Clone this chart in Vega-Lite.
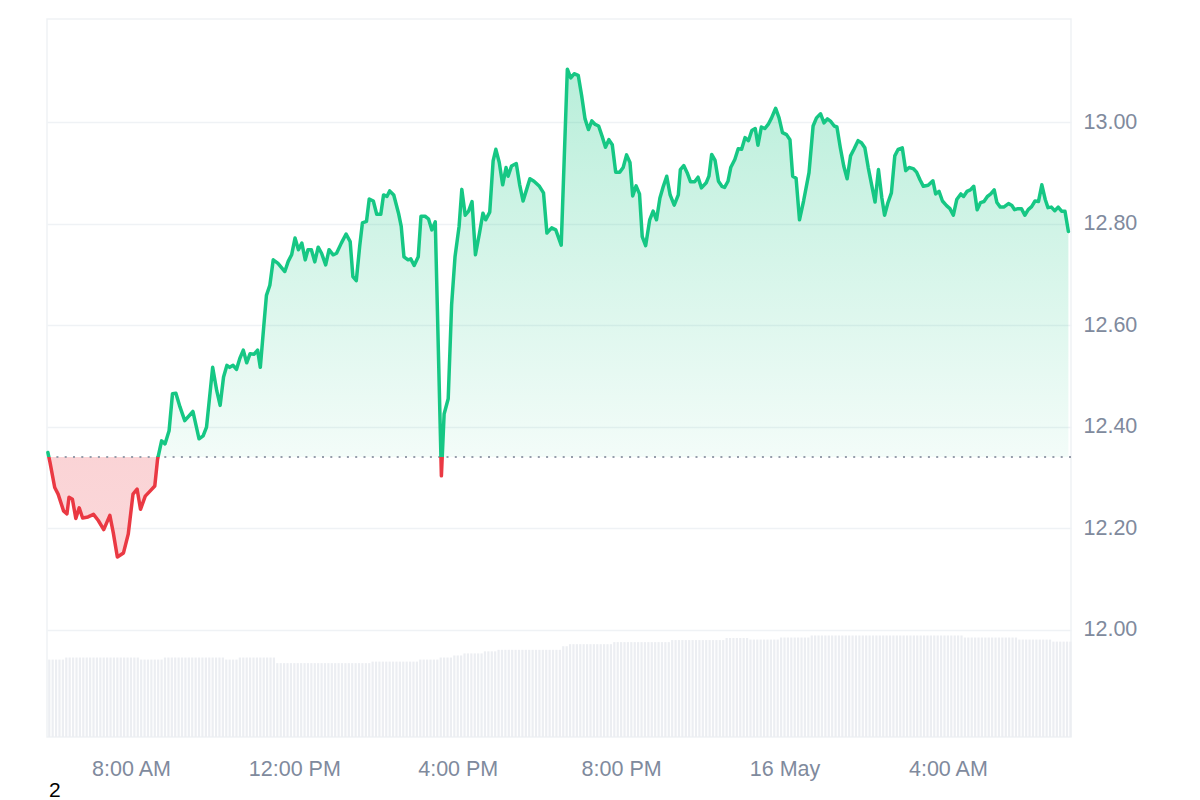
{
"$schema": "https://vega.github.io/schema/vega-lite/v6.json",
"width": 1024,
"height": 718,
"autosize": {"type": "none"},
"padding": {"left": 47, "top": 19, "right": 129, "bottom": 63},
"background": "white",
"config": {"view": {"stroke": "#eff2f5", "strokeWidth": 1.5}, "font": "Liberation Sans"},
"title": {"text": "2", "orient": "bottom", "anchor": "start", "fontSize": 21, "fontWeight": "normal", "color": "#000000", "font": "Liberation Sans", "baseline": "alphabetic", "offset": 17, "dx": 3},
"datasets": {
"price": [
{"t":"2024-05-15T05:58","p":12.349},{"t":"2024-05-15T06:01","p":12.330},{"t":"2024-05-15T06:08","p":12.280},{"t":"2024-05-15T06:13","p":12.267},{"t":"2024-05-15T06:21","p":12.234},{"t":"2024-05-15T06:26","p":12.228},{"t":"2024-05-15T06:29","p":12.261},{"t":"2024-05-15T06:34","p":12.257},{"t":"2024-05-15T06:39","p":12.219},{"t":"2024-05-15T06:44","p":12.240},{"t":"2024-05-15T06:49","p":12.220},{"t":"2024-05-15T06:57","p":12.222},{"t":"2024-05-15T07:05","p":12.227},{"t":"2024-05-15T07:12","p":12.215},{"t":"2024-05-15T07:20","p":12.197},{"t":"2024-05-15T07:29","p":12.225},{"t":"2024-05-15T07:34","p":12.191},{"t":"2024-05-15T07:40","p":12.143},{"t":"2024-05-15T07:49","p":12.151},{"t":"2024-05-15T07:56","p":12.188},
{"t":"2024-05-15T08:03","p":12.267},{"t":"2024-05-15T08:09","p":12.277},{"t":"2024-05-15T08:14","p":12.237},{"t":"2024-05-15T08:21","p":12.263},{"t":"2024-05-15T08:28","p":12.273},{"t":"2024-05-15T08:35","p":12.283},{"t":"2024-05-15T08:39","p":12.335},{"t":"2024-05-15T08:45","p":12.372},{"t":"2024-05-15T08:50","p":12.366},{"t":"2024-05-15T08:56","p":12.392},{"t":"2024-05-15T09:01","p":12.465},{"t":"2024-05-15T09:06","p":12.466},{"t":"2024-05-15T09:12","p":12.439},{"t":"2024-05-15T09:19","p":12.412},{"t":"2024-05-15T09:31","p":12.430},{"t":"2024-05-15T09:40","p":12.376},{"t":"2024-05-15T09:46","p":12.382},{"t":"2024-05-15T09:51","p":12.399},
{"t":"2024-05-15T10:00","p":12.517},{"t":"2024-05-15T10:06","p":12.471},{"t":"2024-05-15T10:11","p":12.442},{"t":"2024-05-15T10:16","p":12.498},{"t":"2024-05-15T10:21","p":12.521},{"t":"2024-05-15T10:25","p":12.517},{"t":"2024-05-15T10:30","p":12.521},{"t":"2024-05-15T10:35","p":12.513},{"t":"2024-05-15T10:40","p":12.535},{"t":"2024-05-15T10:45","p":12.551},{"t":"2024-05-15T10:50","p":12.526},{"t":"2024-05-15T10:55","p":12.544},{"t":"2024-05-15T11:01","p":12.543},{"t":"2024-05-15T11:06","p":12.551},{"t":"2024-05-15T11:10","p":12.517},{"t":"2024-05-15T11:15","p":12.597},{"t":"2024-05-15T11:19","p":12.659},{"t":"2024-05-15T11:24","p":12.679},{"t":"2024-05-15T11:29","p":12.729},{"t":"2024-05-15T11:36","p":12.722},{"t":"2024-05-15T11:46","p":12.706},{"t":"2024-05-15T11:51","p":12.726},{"t":"2024-05-15T11:56","p":12.739},
{"t":"2024-05-15T12:01","p":12.772},{"t":"2024-05-15T12:06","p":12.749},{"t":"2024-05-15T12:11","p":12.762},{"t":"2024-05-15T12:16","p":12.729},{"t":"2024-05-15T12:20","p":12.749},{"t":"2024-05-15T12:25","p":12.749},{"t":"2024-05-15T12:30","p":12.725},{"t":"2024-05-15T12:35","p":12.754},{"t":"2024-05-15T12:40","p":12.742},{"t":"2024-05-15T12:46","p":12.719},{"t":"2024-05-15T12:51","p":12.749},{"t":"2024-05-15T12:57","p":12.739},{"t":"2024-05-15T13:02","p":12.742},{"t":"2024-05-15T13:09","p":12.762},{"t":"2024-05-15T13:16","p":12.780},{"t":"2024-05-15T13:22","p":12.765},{"t":"2024-05-15T13:26","p":12.696},{"t":"2024-05-15T13:31","p":12.688},{"t":"2024-05-15T13:36","p":12.756},{"t":"2024-05-15T13:40","p":12.802},{"t":"2024-05-15T13:46","p":12.805},{"t":"2024-05-15T13:50","p":12.849},{"t":"2024-05-15T13:56","p":12.845},
{"t":"2024-05-15T14:01","p":12.819},{"t":"2024-05-15T14:07","p":12.819},{"t":"2024-05-15T14:11","p":12.857},{"t":"2024-05-15T14:16","p":12.854},{"t":"2024-05-15T14:20","p":12.865},{"t":"2024-05-15T14:26","p":12.857},{"t":"2024-05-15T14:33","p":12.821},{"t":"2024-05-15T14:37","p":12.795},{"t":"2024-05-15T14:41","p":12.735},{"t":"2024-05-15T14:47","p":12.729},{"t":"2024-05-15T14:51","p":12.731},{"t":"2024-05-15T14:56","p":12.718},{"t":"2024-05-15T15:02","p":12.735},{"t":"2024-05-15T15:06","p":12.815},{"t":"2024-05-15T15:12","p":12.815},{"t":"2024-05-15T15:17","p":12.810},{"t":"2024-05-15T15:22","p":12.788},{"t":"2024-05-15T15:27","p":12.804},{"t":"2024-05-15T15:36","p":12.303},{"t":"2024-05-15T15:40","p":12.425},{"t":"2024-05-15T15:46","p":12.455},{"t":"2024-05-15T15:51","p":12.640},{"t":"2024-05-15T15:56","p":12.735},
{"t":"2024-05-15T16:02","p":12.795},{"t":"2024-05-15T16:06","p":12.868},{"t":"2024-05-15T16:11","p":12.817},{"t":"2024-05-15T16:16","p":12.825},{"t":"2024-05-15T16:21","p":12.844},{"t":"2024-05-15T16:26","p":12.739},{"t":"2024-05-15T16:32","p":12.782},{"t":"2024-05-15T16:37","p":12.821},{"t":"2024-05-15T16:41","p":12.808},{"t":"2024-05-15T16:47","p":12.823},{"t":"2024-05-15T16:52","p":12.924},{"t":"2024-05-15T16:56","p":12.947},{"t":"2024-05-15T17:01","p":12.921},{"t":"2024-05-15T17:06","p":12.877},{"t":"2024-05-15T17:11","p":12.911},{"t":"2024-05-15T17:14","p":12.894},{"t":"2024-05-15T17:19","p":12.914},{"t":"2024-05-15T17:26","p":12.919},{"t":"2024-05-15T17:31","p":12.877},{"t":"2024-05-15T17:36","p":12.845},{"t":"2024-05-15T17:41","p":12.867},{"t":"2024-05-15T17:46","p":12.889},{"t":"2024-05-15T17:52","p":12.884},
{"t":"2024-05-15T18:00","p":12.874},{"t":"2024-05-15T18:06","p":12.861},{"t":"2024-05-15T18:11","p":12.782},{"t":"2024-05-15T18:18","p":12.792},{"t":"2024-05-15T18:24","p":12.788},{"t":"2024-05-15T18:32","p":12.758},{"t":"2024-05-15T18:41","p":13.105},{"t":"2024-05-15T18:46","p":13.088},{"t":"2024-05-15T18:51","p":13.096},{"t":"2024-05-15T18:57","p":13.093},{"t":"2024-05-15T19:02","p":13.053},{"t":"2024-05-15T19:07","p":13.007},{"t":"2024-05-15T19:12","p":12.986},{"t":"2024-05-15T19:17","p":13.003},{"t":"2024-05-15T19:22","p":12.996},{"t":"2024-05-15T19:27","p":12.993},{"t":"2024-05-15T19:32","p":12.973},{"t":"2024-05-15T19:37","p":12.951},{"t":"2024-05-15T19:42","p":12.966},{"t":"2024-05-15T19:47","p":12.956},{"t":"2024-05-15T19:52","p":12.902},{"t":"2024-05-15T19:58","p":12.902},
{"t":"2024-05-15T20:03","p":12.911},{"t":"2024-05-15T20:08","p":12.936},{"t":"2024-05-15T20:13","p":12.921},{"t":"2024-05-15T20:17","p":12.855},{"t":"2024-05-15T20:22","p":12.875},{"t":"2024-05-15T20:27","p":12.859},{"t":"2024-05-15T20:31","p":12.775},{"t":"2024-05-15T20:36","p":12.757},{"t":"2024-05-15T20:42","p":12.808},{"t":"2024-05-15T20:47","p":12.825},{"t":"2024-05-15T20:52","p":12.808},{"t":"2024-05-15T20:57","p":12.851},{"t":"2024-05-15T21:02","p":12.874},{"t":"2024-05-15T21:07","p":12.894},{"t":"2024-05-15T21:12","p":12.857},{"t":"2024-05-15T21:18","p":12.837},{"t":"2024-05-15T21:24","p":12.857},{"t":"2024-05-15T21:27","p":12.907},{"t":"2024-05-15T21:32","p":12.915},{"t":"2024-05-15T21:37","p":12.901},{"t":"2024-05-15T21:42","p":12.883},{"t":"2024-05-15T21:48","p":12.883},{"t":"2024-05-15T21:53","p":12.892},{"t":"2024-05-15T21:58","p":12.871},
{"t":"2024-05-15T22:05","p":12.881},{"t":"2024-05-15T22:09","p":12.894},{"t":"2024-05-15T22:13","p":12.937},{"t":"2024-05-15T22:18","p":12.925},{"t":"2024-05-15T22:23","p":12.884},{"t":"2024-05-15T22:28","p":12.874},{"t":"2024-05-15T22:32","p":12.872},{"t":"2024-05-15T22:37","p":12.884},{"t":"2024-05-15T22:41","p":12.911},{"t":"2024-05-15T22:47","p":12.927},{"t":"2024-05-15T22:52","p":12.948},{"t":"2024-05-15T22:57","p":12.947},{"t":"2024-05-15T23:02","p":12.970},{"t":"2024-05-15T23:07","p":12.964},{"t":"2024-05-15T23:12","p":12.984},{"t":"2024-05-15T23:17","p":12.988},{"t":"2024-05-15T23:21","p":12.955},{"t":"2024-05-15T23:26","p":12.991},{"t":"2024-05-15T23:31","p":12.988},{"t":"2024-05-15T23:36","p":12.996},{"t":"2024-05-15T23:41","p":13.009},{"t":"2024-05-15T23:47","p":13.028},{"t":"2024-05-15T23:52","p":13.009},{"t":"2024-05-15T23:57","p":12.980},
{"t":"2024-05-16T00:03","p":12.976},{"t":"2024-05-16T00:08","p":12.966},{"t":"2024-05-16T00:12","p":12.894},{"t":"2024-05-16T00:17","p":12.890},{"t":"2024-05-16T00:22","p":12.808},{"t":"2024-05-16T00:28","p":12.845},{"t":"2024-05-16T00:36","p":12.901},{"t":"2024-05-16T00:42","p":12.993},{"t":"2024-05-16T00:47","p":13.009},{"t":"2024-05-16T00:53","p":13.017},{"t":"2024-05-16T00:58","p":12.999},{"t":"2024-05-16T01:03","p":13.007},{"t":"2024-05-16T01:08","p":13.002},{"t":"2024-05-16T01:13","p":12.993},{"t":"2024-05-16T01:17","p":12.991},{"t":"2024-05-16T01:22","p":12.950},{"t":"2024-05-16T01:27","p":12.914},{"t":"2024-05-16T01:32","p":12.889},{"t":"2024-05-16T01:37","p":12.934},{"t":"2024-05-16T01:42","p":12.947},{"t":"2024-05-16T01:48","p":12.964},{"t":"2024-05-16T01:53","p":12.960},{"t":"2024-05-16T01:58","p":12.950},
{"t":"2024-05-16T02:03","p":12.911},{"t":"2024-05-16T02:08","p":12.877},{"t":"2024-05-16T02:13","p":12.843},{"t":"2024-05-16T02:18","p":12.907},{"t":"2024-05-16T02:23","p":12.851},{"t":"2024-05-16T02:27","p":12.817},{"t":"2024-05-16T02:32","p":12.842},{"t":"2024-05-16T02:37","p":12.861},{"t":"2024-05-16T02:42","p":12.934},{"t":"2024-05-16T02:47","p":12.947},{"t":"2024-05-16T02:53","p":12.950},{"t":"2024-05-16T02:58","p":12.905},{"t":"2024-05-16T03:03","p":12.911},{"t":"2024-05-16T03:09","p":12.909},{"t":"2024-05-16T03:14","p":12.902},{"t":"2024-05-16T03:19","p":12.887},{"t":"2024-05-16T03:24","p":12.874},{"t":"2024-05-16T03:31","p":12.876},{"t":"2024-05-16T03:38","p":12.885},{"t":"2024-05-16T03:42","p":12.859},{"t":"2024-05-16T03:47","p":12.864},{"t":"2024-05-16T03:52","p":12.845},{"t":"2024-05-16T03:58","p":12.836},
{"t":"2024-05-16T04:03","p":12.830},{"t":"2024-05-16T04:08","p":12.817},{"t":"2024-05-16T04:13","p":12.848},{"t":"2024-05-16T04:19","p":12.859},{"t":"2024-05-16T04:23","p":12.854},{"t":"2024-05-16T04:28","p":12.864},{"t":"2024-05-16T04:33","p":12.867},{"t":"2024-05-16T04:38","p":12.874},{"t":"2024-05-16T04:43","p":12.828},{"t":"2024-05-16T04:48","p":12.842},{"t":"2024-05-16T04:53","p":12.844},{"t":"2024-05-16T04:58","p":12.854},{"t":"2024-05-16T05:03","p":12.859},{"t":"2024-05-16T05:08","p":12.867},{"t":"2024-05-16T05:12","p":12.842},{"t":"2024-05-16T05:17","p":12.833},{"t":"2024-05-16T05:22","p":12.833},{"t":"2024-05-16T05:29","p":12.840},{"t":"2024-05-16T05:34","p":12.836},{"t":"2024-05-16T05:38","p":12.828},{"t":"2024-05-16T05:43","p":12.830},{"t":"2024-05-16T05:48","p":12.830},{"t":"2024-05-16T05:53","p":12.817},{"t":"2024-05-16T05:58","p":12.828},
{"t":"2024-05-16T06:03","p":12.834},{"t":"2024-05-16T06:08","p":12.845},{"t":"2024-05-16T06:13","p":12.844},{"t":"2024-05-16T06:18","p":12.877},{"t":"2024-05-16T06:23","p":12.848},{"t":"2024-05-16T06:27","p":12.832},{"t":"2024-05-16T06:32","p":12.833},{"t":"2024-05-16T06:37","p":12.826},{"t":"2024-05-16T06:42","p":12.833},{"t":"2024-05-16T06:47","p":12.825},{"t":"2024-05-16T06:52","p":12.825},{"t":"2024-05-16T06:57","p":12.785}
],
"vol": [
{"t":"2024-05-15T06:00","v":151},{"t":"2024-05-15T06:05","v":151},{"t":"2024-05-15T06:10","v":151},{"t":"2024-05-15T06:15","v":151},{"t":"2024-05-15T06:20","v":151},{"t":"2024-05-15T06:25","v":155},{"t":"2024-05-15T06:30","v":155},{"t":"2024-05-15T06:35","v":155},{"t":"2024-05-15T06:40","v":155},{"t":"2024-05-15T06:45","v":155},{"t":"2024-05-15T06:50","v":155},{"t":"2024-05-15T06:55","v":155},
{"t":"2024-05-15T07:00","v":155},{"t":"2024-05-15T07:05","v":155},{"t":"2024-05-15T07:10","v":155},{"t":"2024-05-15T07:15","v":155},{"t":"2024-05-15T07:20","v":155},{"t":"2024-05-15T07:25","v":155},{"t":"2024-05-15T07:30","v":155},{"t":"2024-05-15T07:35","v":155},{"t":"2024-05-15T07:40","v":155},{"t":"2024-05-15T07:45","v":155},{"t":"2024-05-15T07:50","v":155},{"t":"2024-05-15T07:55","v":155},
{"t":"2024-05-15T08:00","v":155},{"t":"2024-05-15T08:05","v":155},{"t":"2024-05-15T08:10","v":155},{"t":"2024-05-15T08:15","v":151},{"t":"2024-05-15T08:20","v":151},{"t":"2024-05-15T08:25","v":151},{"t":"2024-05-15T08:30","v":151},{"t":"2024-05-15T08:35","v":151},{"t":"2024-05-15T08:40","v":151},{"t":"2024-05-15T08:45","v":151},{"t":"2024-05-15T08:50","v":155},{"t":"2024-05-15T08:55","v":155},
{"t":"2024-05-15T09:00","v":155},{"t":"2024-05-15T09:05","v":155},{"t":"2024-05-15T09:10","v":155},{"t":"2024-05-15T09:15","v":155},{"t":"2024-05-15T09:20","v":155},{"t":"2024-05-15T09:25","v":155},{"t":"2024-05-15T09:30","v":155},{"t":"2024-05-15T09:35","v":155},{"t":"2024-05-15T09:40","v":155},{"t":"2024-05-15T09:45","v":155},{"t":"2024-05-15T09:50","v":155},{"t":"2024-05-15T09:55","v":155},
{"t":"2024-05-15T10:00","v":155},{"t":"2024-05-15T10:05","v":155},{"t":"2024-05-15T10:10","v":155},{"t":"2024-05-15T10:15","v":155},{"t":"2024-05-15T10:20","v":151},{"t":"2024-05-15T10:25","v":151},{"t":"2024-05-15T10:30","v":151},{"t":"2024-05-15T10:35","v":151},{"t":"2024-05-15T10:40","v":155},{"t":"2024-05-15T10:45","v":155},{"t":"2024-05-15T10:50","v":155},{"t":"2024-05-15T10:55","v":155},
{"t":"2024-05-15T11:00","v":155},{"t":"2024-05-15T11:05","v":155},{"t":"2024-05-15T11:10","v":155},{"t":"2024-05-15T11:15","v":155},{"t":"2024-05-15T11:20","v":155},{"t":"2024-05-15T11:25","v":155},{"t":"2024-05-15T11:30","v":155},{"t":"2024-05-15T11:35","v":144},{"t":"2024-05-15T11:40","v":144},{"t":"2024-05-15T11:45","v":144},{"t":"2024-05-15T11:50","v":144},{"t":"2024-05-15T11:55","v":144},
{"t":"2024-05-15T12:00","v":144},{"t":"2024-05-15T12:05","v":144},{"t":"2024-05-15T12:10","v":144},{"t":"2024-05-15T12:15","v":144},{"t":"2024-05-15T12:20","v":144},{"t":"2024-05-15T12:25","v":144},{"t":"2024-05-15T12:30","v":144},{"t":"2024-05-15T12:35","v":144},{"t":"2024-05-15T12:40","v":144},{"t":"2024-05-15T12:45","v":144},{"t":"2024-05-15T12:50","v":144},{"t":"2024-05-15T12:55","v":144},
{"t":"2024-05-15T13:00","v":144},{"t":"2024-05-15T13:05","v":144},{"t":"2024-05-15T13:10","v":144},{"t":"2024-05-15T13:15","v":144},{"t":"2024-05-15T13:20","v":144},{"t":"2024-05-15T13:25","v":144},{"t":"2024-05-15T13:30","v":144},{"t":"2024-05-15T13:35","v":144},{"t":"2024-05-15T13:40","v":144},{"t":"2024-05-15T13:45","v":144},{"t":"2024-05-15T13:50","v":144},{"t":"2024-05-15T13:55","v":147},
{"t":"2024-05-15T14:00","v":147},{"t":"2024-05-15T14:05","v":147},{"t":"2024-05-15T14:10","v":147},{"t":"2024-05-15T14:15","v":147},{"t":"2024-05-15T14:20","v":147},{"t":"2024-05-15T14:25","v":147},{"t":"2024-05-15T14:30","v":147},{"t":"2024-05-15T14:35","v":147},{"t":"2024-05-15T14:40","v":147},{"t":"2024-05-15T14:45","v":147},{"t":"2024-05-15T14:50","v":147},{"t":"2024-05-15T14:55","v":147},
{"t":"2024-05-15T15:00","v":147},{"t":"2024-05-15T15:05","v":151},{"t":"2024-05-15T15:10","v":151},{"t":"2024-05-15T15:15","v":151},{"t":"2024-05-15T15:20","v":151},{"t":"2024-05-15T15:25","v":151},{"t":"2024-05-15T15:30","v":151},{"t":"2024-05-15T15:35","v":155},{"t":"2024-05-15T15:40","v":155},{"t":"2024-05-15T15:45","v":155},{"t":"2024-05-15T15:50","v":155},{"t":"2024-05-15T15:55","v":159},
{"t":"2024-05-15T16:00","v":159},{"t":"2024-05-15T16:05","v":159},{"t":"2024-05-15T16:10","v":163},{"t":"2024-05-15T16:15","v":163},{"t":"2024-05-15T16:20","v":163},{"t":"2024-05-15T16:25","v":163},{"t":"2024-05-15T16:30","v":163},{"t":"2024-05-15T16:35","v":163},{"t":"2024-05-15T16:40","v":167},{"t":"2024-05-15T16:45","v":167},{"t":"2024-05-15T16:50","v":167},{"t":"2024-05-15T16:55","v":167},
{"t":"2024-05-15T17:00","v":170},{"t":"2024-05-15T17:05","v":170},{"t":"2024-05-15T17:10","v":170},{"t":"2024-05-15T17:15","v":170},{"t":"2024-05-15T17:20","v":170},{"t":"2024-05-15T17:25","v":170},{"t":"2024-05-15T17:30","v":170},{"t":"2024-05-15T17:35","v":170},{"t":"2024-05-15T17:40","v":170},{"t":"2024-05-15T17:45","v":170},{"t":"2024-05-15T17:50","v":170},{"t":"2024-05-15T17:55","v":170},
{"t":"2024-05-15T18:00","v":170},{"t":"2024-05-15T18:05","v":170},{"t":"2024-05-15T18:10","v":170},{"t":"2024-05-15T18:15","v":170},{"t":"2024-05-15T18:20","v":170},{"t":"2024-05-15T18:25","v":170},{"t":"2024-05-15T18:30","v":170},{"t":"2024-05-15T18:35","v":177},{"t":"2024-05-15T18:40","v":177},{"t":"2024-05-15T18:45","v":181},{"t":"2024-05-15T18:50","v":181},{"t":"2024-05-15T18:55","v":181},
{"t":"2024-05-15T19:00","v":181},{"t":"2024-05-15T19:05","v":181},{"t":"2024-05-15T19:10","v":181},{"t":"2024-05-15T19:15","v":181},{"t":"2024-05-15T19:20","v":181},{"t":"2024-05-15T19:25","v":181},{"t":"2024-05-15T19:30","v":181},{"t":"2024-05-15T19:35","v":181},{"t":"2024-05-15T19:40","v":181},{"t":"2024-05-15T19:45","v":181},{"t":"2024-05-15T19:50","v":185},{"t":"2024-05-15T19:55","v":185},
{"t":"2024-05-15T20:00","v":185},{"t":"2024-05-15T20:05","v":185},{"t":"2024-05-15T20:10","v":185},{"t":"2024-05-15T20:15","v":185},{"t":"2024-05-15T20:20","v":185},{"t":"2024-05-15T20:25","v":185},{"t":"2024-05-15T20:30","v":185},{"t":"2024-05-15T20:35","v":185},{"t":"2024-05-15T20:40","v":185},{"t":"2024-05-15T20:45","v":185},{"t":"2024-05-15T20:50","v":185},{"t":"2024-05-15T20:55","v":185},
{"t":"2024-05-15T21:00","v":185},{"t":"2024-05-15T21:05","v":185},{"t":"2024-05-15T21:10","v":185},{"t":"2024-05-15T21:15","v":189},{"t":"2024-05-15T21:20","v":189},{"t":"2024-05-15T21:25","v":189},{"t":"2024-05-15T21:30","v":189},{"t":"2024-05-15T21:35","v":189},{"t":"2024-05-15T21:40","v":189},{"t":"2024-05-15T21:45","v":189},{"t":"2024-05-15T21:50","v":189},{"t":"2024-05-15T21:55","v":189},
{"t":"2024-05-15T22:00","v":189},{"t":"2024-05-15T22:05","v":189},{"t":"2024-05-15T22:10","v":189},{"t":"2024-05-15T22:15","v":189},{"t":"2024-05-15T22:20","v":189},{"t":"2024-05-15T22:25","v":189},{"t":"2024-05-15T22:30","v":189},{"t":"2024-05-15T22:35","v":193},{"t":"2024-05-15T22:40","v":193},{"t":"2024-05-15T22:45","v":193},{"t":"2024-05-15T22:50","v":193},{"t":"2024-05-15T22:55","v":193},
{"t":"2024-05-15T23:00","v":193},{"t":"2024-05-15T23:05","v":193},{"t":"2024-05-15T23:10","v":190},{"t":"2024-05-15T23:15","v":190},{"t":"2024-05-15T23:20","v":190},{"t":"2024-05-15T23:25","v":190},{"t":"2024-05-15T23:30","v":190},{"t":"2024-05-15T23:35","v":190},{"t":"2024-05-15T23:40","v":190},{"t":"2024-05-15T23:45","v":190},{"t":"2024-05-15T23:50","v":190},{"t":"2024-05-15T23:55","v":194},
{"t":"2024-05-16T00:00","v":194},{"t":"2024-05-16T00:05","v":194},{"t":"2024-05-16T00:10","v":194},{"t":"2024-05-16T00:15","v":194},{"t":"2024-05-16T00:20","v":194},{"t":"2024-05-16T00:25","v":194},{"t":"2024-05-16T00:30","v":194},{"t":"2024-05-16T00:35","v":194},{"t":"2024-05-16T00:40","v":198},{"t":"2024-05-16T00:45","v":198},{"t":"2024-05-16T00:50","v":198},{"t":"2024-05-16T00:55","v":198},
{"t":"2024-05-16T01:00","v":198},{"t":"2024-05-16T01:05","v":198},{"t":"2024-05-16T01:10","v":198},{"t":"2024-05-16T01:15","v":198},{"t":"2024-05-16T01:20","v":198},{"t":"2024-05-16T01:25","v":198},{"t":"2024-05-16T01:30","v":198},{"t":"2024-05-16T01:35","v":198},{"t":"2024-05-16T01:40","v":198},{"t":"2024-05-16T01:45","v":198},{"t":"2024-05-16T01:50","v":198},{"t":"2024-05-16T01:55","v":198},
{"t":"2024-05-16T02:00","v":198},{"t":"2024-05-16T02:05","v":198},{"t":"2024-05-16T02:10","v":198},{"t":"2024-05-16T02:15","v":198},{"t":"2024-05-16T02:20","v":198},{"t":"2024-05-16T02:25","v":198},{"t":"2024-05-16T02:30","v":198},{"t":"2024-05-16T02:35","v":198},{"t":"2024-05-16T02:40","v":198},{"t":"2024-05-16T02:45","v":198},{"t":"2024-05-16T02:50","v":198},{"t":"2024-05-16T02:55","v":198},
{"t":"2024-05-16T03:00","v":198},{"t":"2024-05-16T03:05","v":198},{"t":"2024-05-16T03:10","v":198},{"t":"2024-05-16T03:15","v":198},{"t":"2024-05-16T03:20","v":198},{"t":"2024-05-16T03:25","v":198},{"t":"2024-05-16T03:30","v":198},{"t":"2024-05-16T03:35","v":198},{"t":"2024-05-16T03:40","v":198},{"t":"2024-05-16T03:45","v":198},{"t":"2024-05-16T03:50","v":198},{"t":"2024-05-16T03:55","v":198},
{"t":"2024-05-16T04:00","v":198},{"t":"2024-05-16T04:05","v":198},{"t":"2024-05-16T04:10","v":198},{"t":"2024-05-16T04:15","v":198},{"t":"2024-05-16T04:20","v":198},{"t":"2024-05-16T04:25","v":194},{"t":"2024-05-16T04:30","v":194},{"t":"2024-05-16T04:35","v":194},{"t":"2024-05-16T04:40","v":194},{"t":"2024-05-16T04:45","v":194},{"t":"2024-05-16T04:50","v":194},{"t":"2024-05-16T04:55","v":194},
{"t":"2024-05-16T05:00","v":194},{"t":"2024-05-16T05:05","v":194},{"t":"2024-05-16T05:10","v":194},{"t":"2024-05-16T05:15","v":194},{"t":"2024-05-16T05:20","v":194},{"t":"2024-05-16T05:25","v":194},{"t":"2024-05-16T05:30","v":194},{"t":"2024-05-16T05:35","v":194},{"t":"2024-05-16T05:40","v":194},{"t":"2024-05-16T05:45","v":190},{"t":"2024-05-16T05:50","v":190},{"t":"2024-05-16T05:55","v":190},
{"t":"2024-05-16T06:00","v":190},{"t":"2024-05-16T06:05","v":190},{"t":"2024-05-16T06:10","v":190},{"t":"2024-05-16T06:15","v":190},{"t":"2024-05-16T06:20","v":190},{"t":"2024-05-16T06:25","v":190},{"t":"2024-05-16T06:30","v":190},{"t":"2024-05-16T06:35","v":186},{"t":"2024-05-16T06:40","v":186},{"t":"2024-05-16T06:45","v":186},{"t":"2024-05-16T06:50","v":186},{"t":"2024-05-16T06:55","v":186},
{"t":"2024-05-16T07:00","v":186}
]
},
"layer": [
{
"data": {"name": "vol"},
"mark": {"type": "bar", "size": 2.2, "color": "#eceef2"},
"encoding": {
"x": {"field": "t", "type": "temporal",
"scale": {"padding": 0, "domain": [{"year": 2024, "month": 5, "date": 15, "hours": 5, "minutes": 56, "seconds": 40}, {"year": 2024, "month": 5, "date": 16, "hours": 7, "minutes": 0, "seconds": 50}]},
"axis": {"title": null, "grid": false, "domain": false, "ticks": false, "labelPadding": 21, "labelFontSize": 21.5, "labelColor": "#808a9d", "labelFont": "Liberation Sans", "labelOverlap": false, "labelFlush": false,
"values": [{"year": 2024, "month": 5, "date": 15, "hours": 8}, {"year": 2024, "month": 5, "date": 15, "hours": 12}, {"year": 2024, "month": 5, "date": 15, "hours": 16}, {"year": 2024, "month": 5, "date": 15, "hours": 20}, {"year": 2024, "month": 5, "date": 16, "hours": 0}, {"year": 2024, "month": 5, "date": 16, "hours": 4}],
"labelExpr": "hours(datum.value) == 0 ? timeFormat(datum.value, '%-d %b') : timeFormat(datum.value, '%-I:%M %p')"}},
"y": {"field": "v", "type": "quantitative", "scale": {"domain": [0, 1400], "nice": false}, "axis": null}
}
},
{
"data": {"name": "price"},
"layer": [
{
"mark": {"type": "area", "fill": {"gradient": "linear", "x1": 0, "y1": 0, "x2": 0, "y2": 1, "stops": [{"offset": 0, "color": "rgba(22,199,132,0.3)"}, {"offset": 0.7952, "color": "rgba(22,199,132,0.05)"}, {"offset": 0.7952, "color": "rgba(234,57,67,0.22)"}, {"offset": 1, "color": "rgba(234,57,67,0.2)"}]}},
"encoding": {
"x": {"field": "t", "type": "temporal"},
"y": {"field": "p", "type": "quantitative", "scale": {"domain": [11.788, 13.204], "nice": false, "zero": false},
"axis": {"orient": "right", "title": null, "values": [12, 12.2, 12.4, 12.6, 12.8, 13], "format": ".2f", "domain": false, "ticks": false, "labelPadding": 12, "labelFontSize": 21.5, "labelColor": "#808a9d", "labelFont": "Liberation Sans", "grid": true, "gridColor": "#eff2f5", "gridWidth": 1.5}},
"y2": {"datum": 12.34}
}
},
{
"data": {"values": [{}]},
"mark": {"type": "rule", "strokeDash": [2, 6.3], "color": "#969dab", "strokeWidth": 2},
"encoding": {"y": {"datum": 12.34, "type": "quantitative"}}
},
{
"mark": {"type": "line", "strokeWidth": 3.5, "strokeJoin": "round", "strokeCap": "round", "stroke": {"gradient": "linear", "x1": 0, "y1": 0, "x2": 0, "y2": 1, "stops": [{"offset": 0, "color": "#16c784"}, {"offset": 0.7952, "color": "#16c784"}, {"offset": 0.7952, "color": "#ea3943"}, {"offset": 1, "color": "#ea3943"}]}},
"encoding": {
"x": {"field": "t", "type": "temporal"},
"y": {"field": "p", "type": "quantitative"}
}
}
]
}
],
"resolve": {"scale": {"y": "independent"}}
}
